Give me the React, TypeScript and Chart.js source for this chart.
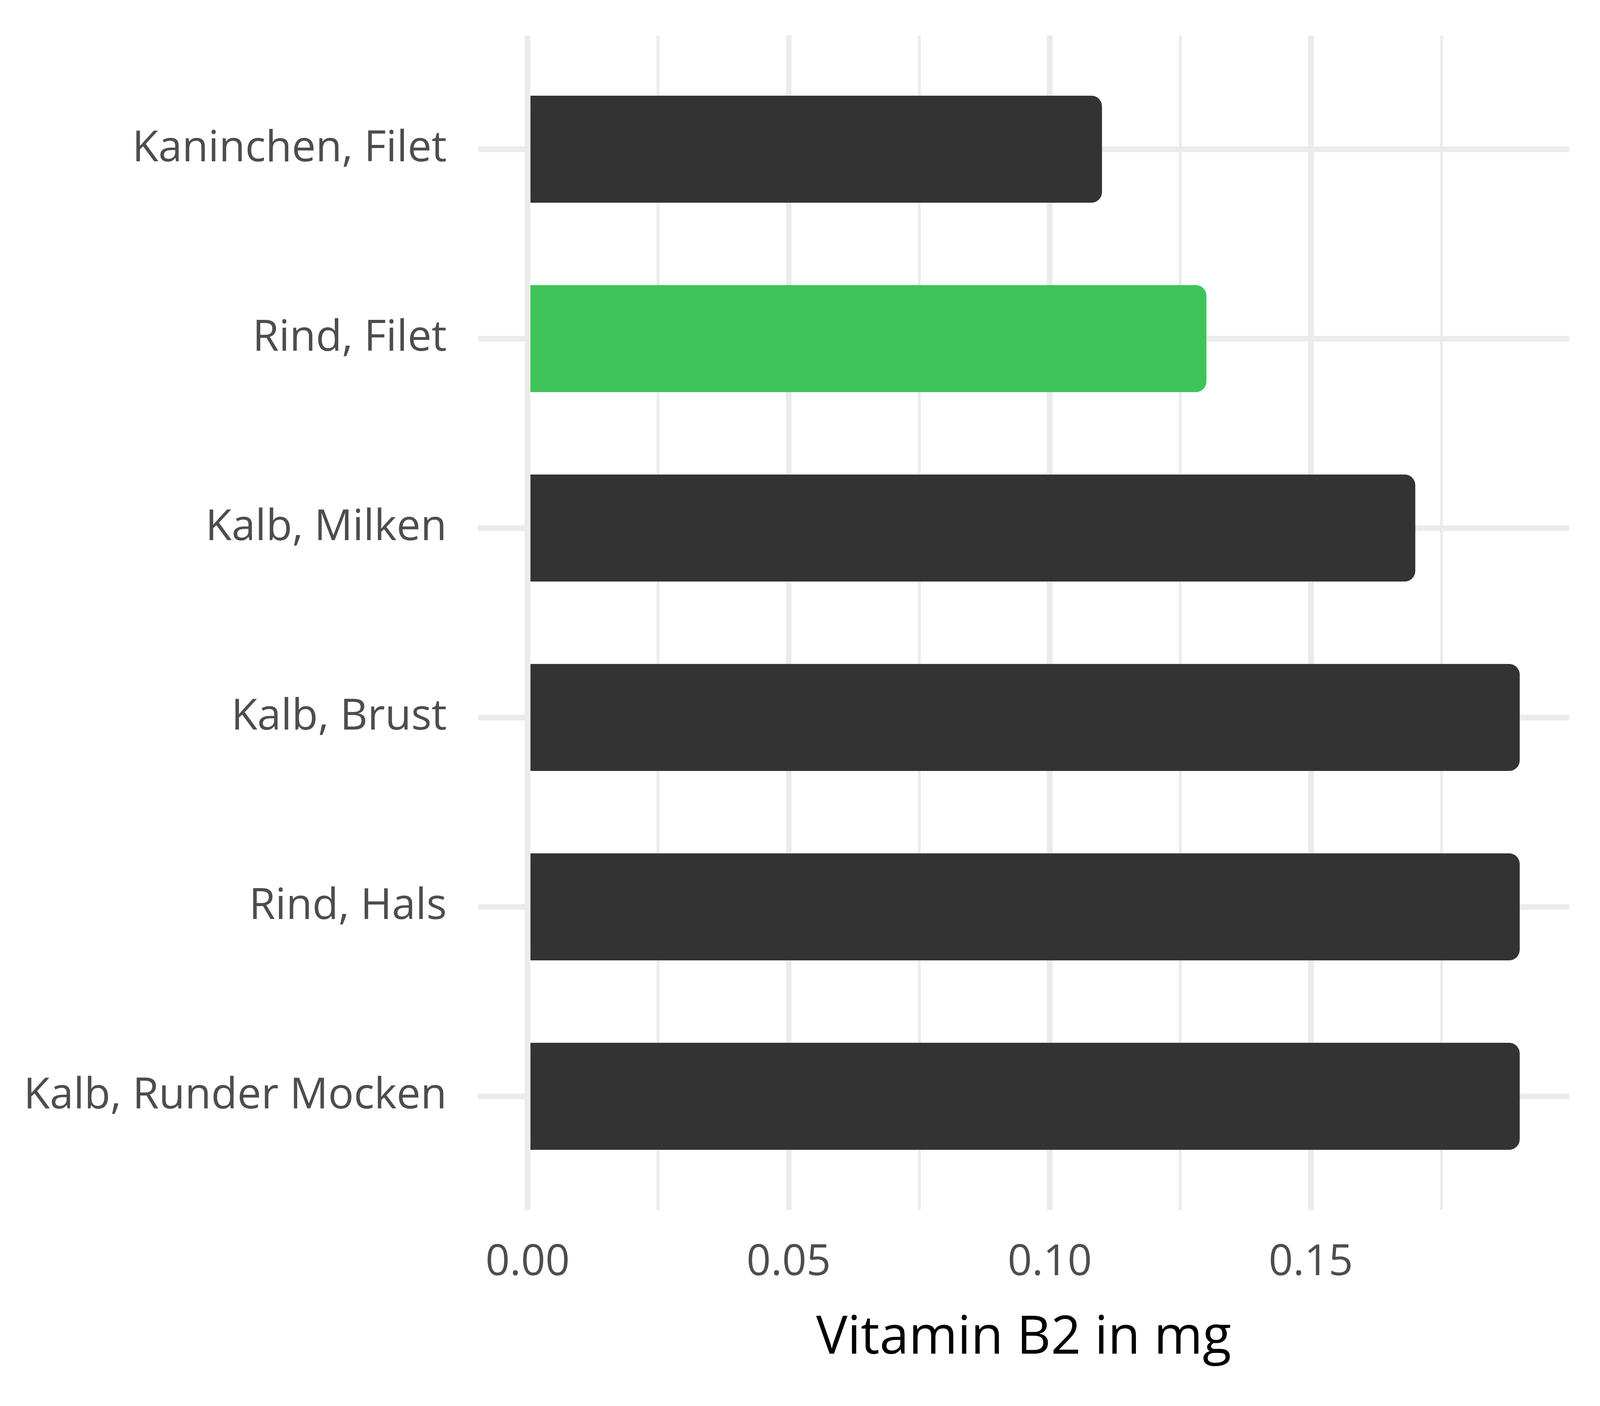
import React, { useEffect, useRef } from "react";
import { Chart, registerables } from "chart.js";

Chart.register(...registerables);

const categories: string[] = [
  "Kaninchen, Filet",
  "Rind, Filet",
  "Kalb, Milken",
  "Kalb, Brust",
  "Rind, Hals",
  "Kalb, Runder Mocken",
];
const values: number[] = [0.11, 0.13, 0.17, 0.19, 0.19, 0.19];
const highlight: boolean[] = [false, true, false, false, false, false];
const xTicks: number[] = [0, 0.025, 0.05, 0.075, 0.1, 0.125, 0.15, 0.175];
const axisTitle = "Vitamin B2 in mg";

const FONT = "'Open Sans', sans-serif";

export default function App() {
  const ref = useRef<HTMLCanvasElement | null>(null);
  useEffect(() => {
    document.body.style.margin = "0";
    const canvas = ref.current!;
    const sw = (c: any) => c.chart.width / 4800;
    const sh = (c: any) => c.chart.height / 3600;
    const chart = new Chart(canvas, {
      type: "bar",
      data: {
        datasets: [
          {
            data: values.map((v, i) => ({ x: v, y: i })),
            backgroundColor: highlight.map((h) => (h ? "#3EC45A" : "#333333")),
            borderWidth: 0,
            borderRadius: (c: any) => 32 * sw(c),
            borderSkipped: "start",
            categoryPercentage: 1,
            barPercentage: 0.565,
          } as any,
        ],
      },
      options: {
        indexAxis: "y",
        animation: false,
        responsive: true,
        maintainAspectRatio: false,
        layout: {
          padding: (c: any) => ({ top: 91 * sh(c), right: 92 * sw(c), bottom: 0, left: 0 }),
        },
        plugins: { legend: { display: false }, tooltip: { enabled: false } },
        scales: {
          x: {
            type: "linear",
            min: -0.0095,
            max: 0.1995,
            afterBuildTicks: (scale: any) => {
              scale.ticks = xTicks.map((v) => ({ value: v }));
            },
            afterFit: (scale: any) => {
              scale.height = (502 * scale.chart.height) / 3600;
              scale.paddingLeft = 0;
              scale.paddingRight = 0;
            },
            border: { display: false },
            grid: {
              color: "#EBEBEB",
              lineWidth: (ctx: any) => (ctx.index % 2 === 0 ? 17 : 8) * sw(ctx),
              drawTicks: false,
            },
            ticks: {
              padding: 70,
              color: "#4D4D4D",
              font: (c: any) => ({ family: FONT, size: 128 * sw(c) }),
              maxRotation: 0,
              autoSkip: false,
              callback: (v: any, i: number) => (i % 2 === 0 ? Number(v).toFixed(2) : ""),
            },
            title: {
              display: true,
              text: axisTitle,
              color: "#000000",
              font: (c: any) => ({ family: FONT, size: 158 * sw(c) }),
              padding: { top: 20, bottom: 92 },
            },
          },
          y: {
            type: "linear",
            min: -0.6,
            max: 5.6,
            reverse: true,
            offset: false,
            afterBuildTicks: (scale: any) => {
              scale.ticks = categories.map((_, i) => ({ value: i }));
            },
            afterFit: (scale: any) => {
              scale.width = (1434 * scale.chart.width) / 4800;
              scale.paddingTop = 0;
              scale.paddingBottom = 0;
            },
            border: { display: false },
            grid: { color: "#EBEBEB", lineWidth: (c: any) => 17 * sw(c), drawTicks: false, offset: false },
            ticks: {
              padding: 80,
              color: "#4D4D4D",
              font: (c: any) => ({ family: FONT, size: 128 * sw(c) }),
              autoSkip: false,
              callback: (v: any) => categories[Number(v)] ?? "",
            },
          },
        },
      },
    });
    return () => chart.destroy();
  }, []);
  return (
    <div style={{ position: "relative", width: "100vw", height: "100vh", background: "#FFFFFF" }}>
      <canvas ref={ref} />
    </div>
  );
}
